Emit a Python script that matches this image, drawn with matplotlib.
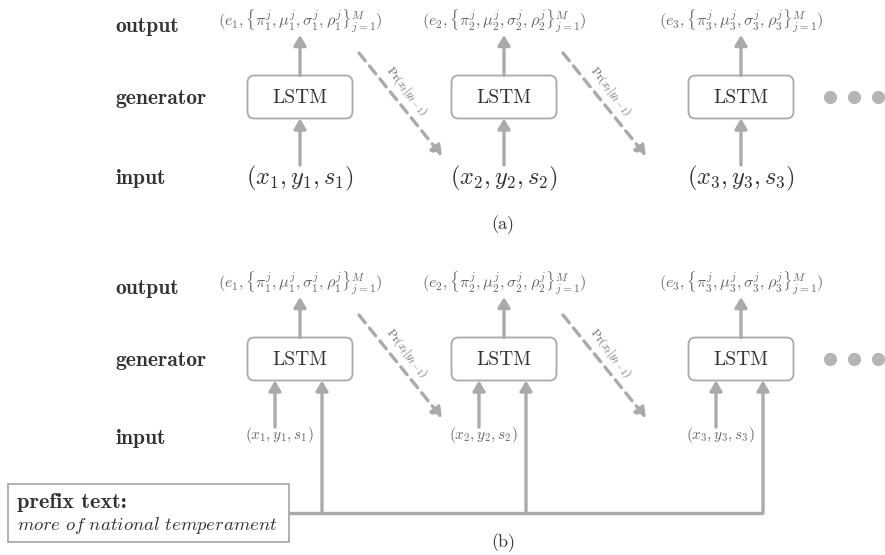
import matplotlib
matplotlib.use("Agg")
import matplotlib.pyplot as plt
from matplotlib.patches import FancyBboxPatch, Rectangle

plt.rcParams['mathtext.fontset'] = 'cm'

# labels of the diagram
row_labels = ["output", "generator", "input"]
steps = [1, 2, 3]
cell_name = "LSTM"
panel_tags = ["(a)", "(b)"]
prefix_title = "prefix text:"
prefix_body = "more of national temperament"

GRAY = "#aaaaaa"
DARK = "#333333"
MID = "#666666"

col_x = [300, 504, 741]        # centres of the LSTM columns
box_w, box_h = 105, 43


def out_label(t):
    return r'$(e_%d,\{\pi_%d^j,\mu_%d^j,\sigma_%d^j,\rho_%d^j\}_{j=1}^M)$' % (t, t, t, t, t)


def in_label(t):
    return r'$(x_%d,y_%d,s_%d)$' % (t, t, t)


def arrow(ax, x0, y0, x1, y1, dashed=False):
    ax.annotate('', xy=(x1, y1), xytext=(x0, y0),
                arrowprops=dict(arrowstyle='-|>,head_length=0.5,head_width=0.3', color=GRAY, lw=2.4,
                                mutation_scale=12, shrinkA=0, shrinkB=0,
                                linestyle=(0, (3, 2)) if dashed else '-'))


def draw_panel(ax, y0, with_prefix):
    y_out, y_gen, y_in = y0 + 21, y0 + 97, y0 + 178
    if with_prefix:
        y_out, y_gen, y_in = y0 + 283, y0 + 359, y0 + 435
    ax.text(115, y_out + 6, row_labels[0], fontsize=15.5, family='cmb10', color=DARK, va='center')
    ax.text(115, y_gen + 1, row_labels[1], fontsize=15.5, family='cmb10', color=DARK, va='center')
    ax.text(115, y_in + (0 if not with_prefix else 3), row_labels[2], fontsize=15.5, family='cmb10',
            color=DARK, va='center')

    for i, t in enumerate(steps):
        cx = col_x[i]
        top, bot = y_gen - box_h / 2, y_gen + box_h / 2
        ax.add_patch(FancyBboxPatch((cx - box_w / 2, top), box_w, box_h,
                                    boxstyle='round,pad=0,rounding_size=7',
                                    fc='white', ec=GRAY, lw=1.3, zorder=3))
        ax.text(cx, y_gen + 1, cell_name, fontsize=14, family='cmr10', color=DARK,
                ha='center', va='center', zorder=4)
        ax.text(cx, y_out, out_label(t), fontsize=11.7, color=MID, ha='center', va='center')
        arrow(ax, cx, top, cx, y_out + 14)
        if not with_prefix:
            ax.text(cx, y_in, in_label(t), fontsize=17.5, color=DARK, ha='center', va='center')
            arrow(ax, cx, y_in - 13, cx, bot)
        else:
            lx = cx - 25
            ax.text(lx + 4, y_in, in_label(t), fontsize=11, color=MID, ha='center', va='center')
            arrow(ax, lx, y_in - 8, lx, bot)
            arrow(ax, cx + 22, y0 + 513, cx + 22, bot)
        if i < 2:
            xs, ys = cx + 59, y_out + 32
            xe, ye = cx + 142, y_out + 135
            arrow(ax, xs, ys, xe, ye, dashed=True)
            ax.text((xs + xe) / 2 + 6, (ys + ye) / 2 - 13, r'$\Pr(x_t|y_{t-1})$',
                    fontsize=8.5, color=MID, rotation=-51, ha='center', va='center',
                    rotation_mode='anchor')

    for dx in [830, 854, 878]:
        ax.plot(dx, y_gen, 'o', ms=9.5, color='#b5b5b5', mec='none')

    if with_prefix:
        ax.plot([289, col_x[2] + 22], [y0 + 513, y0 + 513], color=GRAY, lw=2.4,
                solid_capstyle='butt')
        ax.add_patch(Rectangle((8, y0 + 484), 281, 58, fc='white', ec=GRAY, lw=1.3))
        ax.text(17, y0 + 502, prefix_title, fontsize=16, family='cmb10', color=DARK, va='center')
        ax.text(17, y0 + 526, r'$\mathit{' + prefix_body.replace(' ', r'\ ') + '}$',
                fontsize=13.5, color=DARK, va='center')
        ax.text(503, y0 + 543, panel_tags[1], fontsize=13, family='cmr10', color=DARK,
                ha='center', va='center')
    else:
        ax.text(503, y0 + 225, panel_tags[0], fontsize=13, family='cmr10', color=DARK,
                ha='center', va='center')


fig = plt.figure(figsize=(8.85, 5.55), dpi=100)
ax = fig.add_axes([0, 0, 1, 1])
ax.set_xlim(0, 885)
ax.set_ylim(555, 0)
ax.axis('off')

draw_panel(ax, 0, False)
draw_panel(ax, 0, True)

fig.savefig("out.png", dpi=100)
